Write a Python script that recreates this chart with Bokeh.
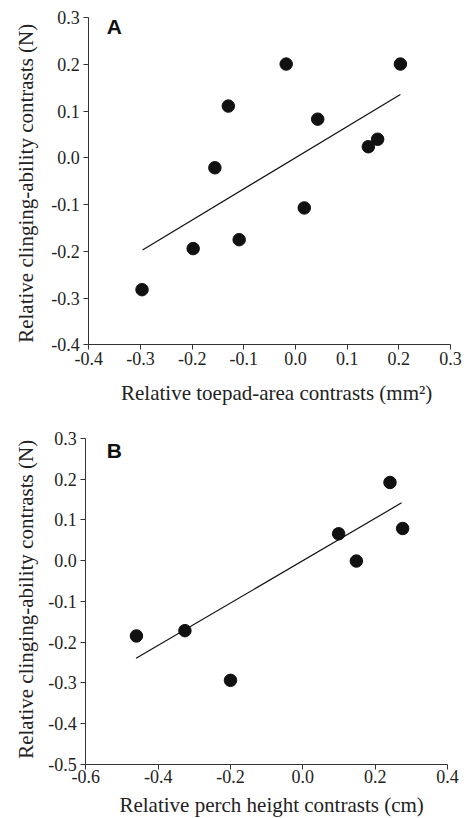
import math
from bokeh.plotting import figure
from bokeh.layouts import column
from bokeh.models import Range1d, FixedTicker, CustomJSTickFormatter, Label
from bokeh.embed import file_html
from bokeh.resources import INLINE

# Panel A data
a_x = [-0.297, -0.198, -0.156, -0.130, -0.109, -0.018, 0.017, 0.043, 0.141, 0.159, 0.203]
a_y = [-0.282, -0.194, -0.021, 0.111, -0.175, 0.201, -0.107, 0.083, 0.024, 0.040, 0.201]
a_fit_x = [-0.296, 0.203]
a_fit_y = [-0.197, 0.136]
a_xticks = [-0.4, -0.3, -0.2, -0.1, 0.0, 0.1, 0.2, 0.3]
a_yticks = [-0.4, -0.3, -0.2, -0.1, 0.0, 0.1, 0.2, 0.3]

# Panel B data
b_x = [-0.460, -0.326, -0.200, 0.099, 0.148, 0.241, 0.276]
b_y = [-0.185, -0.172, -0.294, 0.066, -0.001, 0.192, 0.079]
b_fit_x = [-0.461, 0.273]
b_fit_y = [-0.240, 0.142]
b_xticks = [-0.6, -0.4, -0.2, 0.0, 0.2, 0.4]
b_yticks = [-0.5, -0.4, -0.3, -0.2, -0.1, 0.0, 0.1, 0.2, 0.3]

Y_LABEL = "Relative clinging-ability contrasts (N)"

SERIF = "Liberation Serif"
SANS = "Liberation Sans"
TXT = "#222222"
W = 469


def make_panel(xs, ys, fx, fy, xticks, yticks, xlabel, letter, letter_off,
               height, box, xlab_off, ylab_off, xtick_off):
    # box: pixel edges (left, right, top, bottom) of the axes box inside this figure
    left, right, top, bottom = box
    x0, x1 = xticks[0], xticks[-1]
    y0, y1 = yticks[0], yticks[-1]
    kx = (x1 - x0) / (right - left)
    ky = (y1 - y0) / (bottom - top)
    xr = Range1d(x0 - left * kx, x1 + (W - right) * kx)
    yr = Range1d(y0 - (height - bottom) * ky, y1 + top * ky)
    p = figure(width=W, height=height, output_backend="svg", toolbar_location=None,
               x_range=xr, y_range=yr,
               min_border_top=0, min_border_right=0, min_border_bottom=0, min_border_left=0)
    p.outline_line_color = None
    p.grid.visible = False
    p.background_fill_color = "white"
    p.border_fill_color = "white"
    p.xaxis.ticker = FixedTicker(ticks=xticks)
    p.yaxis.ticker = FixedTicker(ticks=yticks)
    p.xaxis.fixed_location = y0
    p.yaxis.fixed_location = x0
    p.xaxis.bounds = (x0, x1)
    p.yaxis.bounds = (y0, y1)
    p.axis.formatter = CustomJSTickFormatter(code="return ''")
    p.axis.minor_tick_line_color = None
    p.axis.major_tick_in = 0
    p.axis.major_tick_out = 5
    p.axis.axis_line_color = "#333333"
    p.axis.major_tick_line_color = "#333333"

    # tick labels
    for v in yticks:
        p.add_layout(Label(x=x0, y=v, text="%.1f" % v, x_offset=-9,
                           text_align="right", text_baseline="middle",
                           text_font=SERIF, text_font_size="18px", text_color=TXT))
    for v in xticks:
        p.add_layout(Label(x=v, y=y0, text="%.1f" % v, y_offset=xtick_off,
                           text_align="center", text_baseline="top",
                           text_font=SERIF, text_font_size="18px", text_color=TXT))
    # axis titles
    p.add_layout(Label(x=(x0 + x1) / 2, y=y0, text=xlabel, x_offset=xlab_off[0],
                       y_offset=xlab_off[1], text_align="center",
                       text_baseline="alphabetic", text_font=SERIF,
                       text_font_size="21px", text_color=TXT))
    p.add_layout(Label(x=x0, y=(y0 + y1) / 2, text=Y_LABEL, angle=math.pi / 2,
                       x_offset=ylab_off[0], y_offset=ylab_off[1], text_align="center",
                       text_baseline="middle", text_font=SERIF,
                       text_font_size="21px", text_color=TXT))

    p.line(fx, fy, line_color="#111111", line_width=1.2)
    p.scatter(xs, ys, size=12.5, fill_color="#111111", line_color="#111111")
    p.add_layout(Label(x=x0, y=y1, text=letter, x_offset=letter_off[0],
                       y_offset=letter_off[1],
                       text_font=SANS, text_font_style="bold", text_font_size="21px",
                       text_baseline="top", text_align="left", text_color="#111111"))
    return p


pA = make_panel(a_x, a_y, a_fit_x, a_fit_y, a_xticks, a_yticks,
                "Relative toepad-area contrasts (mm²)", "A", (18, 3),
                410, (88.3, 450.0, 17.3, 344.3), (7, -48), (-63, -2), -7)
pB = make_panel(b_x, b_y, b_fit_x, b_fit_y, b_xticks, b_yticks,
                "Relative perch height contrasts (cm)", "B", (21, 0),
                408, (85.3, 447.0, 28.0, 353.7), (5, -41), (-60, 2), -6)

layout = column(pA, pB, spacing=0)
open("out.html", "w").write(file_html(layout, INLINE))
